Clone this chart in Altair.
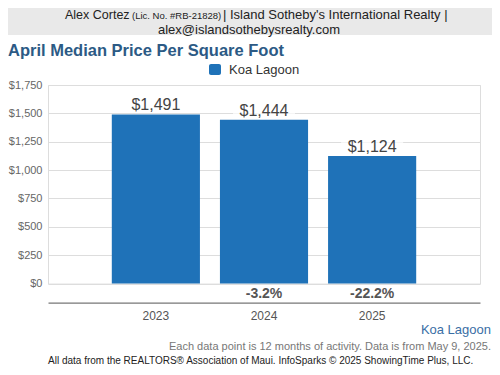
import altair as alt
import pandas as pd

years = ["2023", "2024", "2025"]
prices = [1491, 1444, 1124]
changes = ["", "-3.2%", "-22.2%"]
y_ticks = [0, 250, 500, 750, 1000, 1250, 1500, 1750]

FONT = "Liberation Sans"
W, H = 432, 198.6

df = pd.DataFrame({"year": years, "price": prices, "change": changes})
df["label"] = ["${:,.0f}".format(v) for v in prices]

x_enc = alt.X("year:N", sort=years,
              scale=alt.Scale(paddingInner=0.185, paddingOuter=0.59),
              axis=alt.Axis(title=None, labelAngle=0, tickSize=0, labelPadding=8,
                            labelColor="#555", labelFontSize=12, labelFont=FONT,
                            domainColor="#777", domainWidth=1.2, offset=19, grid=False))
y_enc = alt.Y("price:Q", scale=alt.Scale(domain=[0, 1750], nice=False, zero=True),
              axis=alt.Axis(title=None, values=y_ticks, format="$,.0f", domain=False,
                            ticks=False, labelPadding=6, labelColor="#666",
                            labelFontSize=11, labelFont=FONT, gridColor="#dddddd",
                            gridWidth=1))

base = alt.Chart(df)

halo = base.mark_tick(color="white", thickness=20, size=62, yOffset=-13).encode(
    x=x_enc, y=y_enc)
bars = base.mark_bar(color="#1f72b8").encode(x=x_enc, y=y_enc)
vals = base.mark_text(baseline="alphabetic", dy=-4, fontSize=16, font=FONT,
                      color="#444").encode(x=x_enc, y=y_enc, text="label:N")
pct = base.mark_text(baseline="middle", fontSize=14, fontWeight="bold", font=FONT,
                     color="#555").encode(x=x_enc, y=alt.value(H + 10.5),
                                          text="change:N")

# header band and texts
hdr = pd.DataFrame({"k": [0]})
hc = alt.Chart(hdr)
band = hc.mark_rect(color="#e9e9e9").encode(
    x=alt.value(-48), x2=alt.value(460), y=alt.value(-93), y2=alt.value(-50))

def txt(s, x, y, size, color="#222", align="left", weight="normal", baseline="middle"):
    return hc.mark_text(text=s, align=align, baseline=baseline, fontSize=size,
                        fontWeight=weight, font=FONT, color=color).encode(
        x=alt.value(x), y=alt.value(y))

h1 = txt("Alex Cortez", 17, -70, 12.5)
h2 = txt("(Lic. No. #RB-21828)", 84, -69, 9.5)
h3 = txt("| Island Sotheby's International Realty |", 175, -70, 13)
h4 = txt("alex@islandsothebysrealty.com", 201, -55, 13, align="center")
title = txt("April Median Price Per Square Foot", -40, -34, 16.5, color="#2c5a85",
            weight="bold")
leg_sq = hc.mark_rect(color="#1f72b8", cornerRadius=2).encode(
    x=alt.value(161), x2=alt.value(173), y=alt.value(-21), y2=alt.value(-10))
leg_t = txt("Koa Lagoon", 181, -15, 13, color="#333")
foot1 = txt("Koa Lagoon", 443, 245, 13, color="#3a6ea5", align="right")
foot2 = txt("Each data point is 12 months of activity. Data is from May 9, 2025.",
            443, 262, 11, color="#777", align="right")
foot3 = txt("All data from the REALTORS\u00ae Association of Maui. InfoSparks \u00a9 2025 ShowingTime Plus, LLC.",
            0, 276, 10, color="#222")

chart = alt.layer(halo, bars, vals, pct, band, h1, h2, h3, h4, title, leg_sq, leg_t,
                  foot1, foot2, foot3).properties(
    width=W, height=H, autosize="none",
    padding={"left": 40, "top": 77, "right": 12, "bottom": 83.4},
).configure_view(stroke=None).configure(background="white")

chart.save("out.html", embed_options={"renderer": "svg", "actions": False})
